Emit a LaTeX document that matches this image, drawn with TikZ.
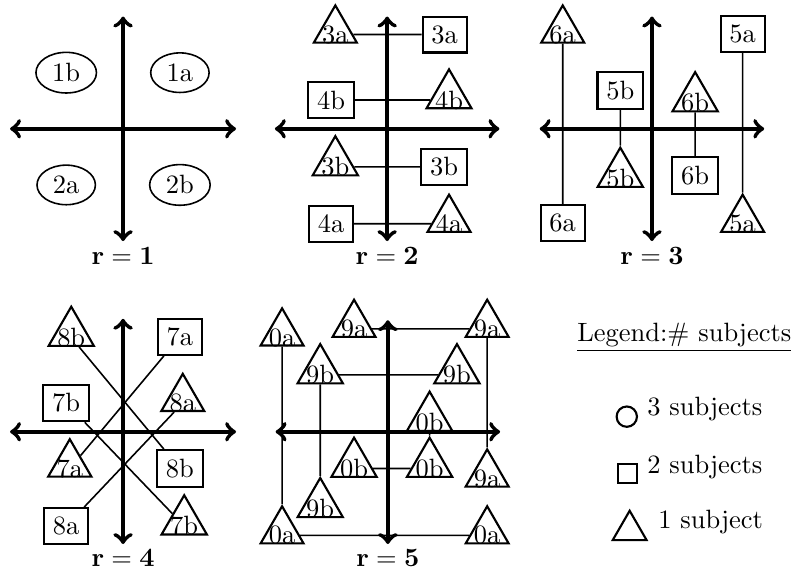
\documentclass[tikz,border=0pt]{standalone}
\usepackage{amsmath}
\usetikzlibrary{shapes.geometric,positioning}

\begin{document}
\begin{tikzpicture}[
  x=0.955cm,
  y=0.955cm,
  every node/.style={font=\normalsize},
  axis/.style={ultra thick, <->},
  link/.style={semithick},
  three/.style={ellipse, draw, semithick, inner xsep=2.8pt, inner ysep=1.9pt},
  two/.style={rectangle, draw, thick},
  one/.style={isosceles triangle, isosceles triangle apex angle=60,
    shape border rotate=90, draw, thick, inner sep=-0.4pt},
  rlab/.style={inner sep=0pt}
]
  \useasboundingbox (0,0) rectangle (11.02,-7.93);

  % ================= r = 1 ==============================================
  \begin{scope}[shift={(1.71,-1.79)}]
    \draw[axis] (-1.57,0) -- (1.57,0);
    \draw[axis] (0,-1.56) -- (0,1.56);

    \node[three] (e1b) at (-0.79,0.78) {1b};
    \node[three] (e1a) at (0.79,0.78) {1a};
    \node[three] (e2a) at (-0.79,-0.78) {2a};
    \node[three] (e2b) at (0.79,-0.78) {2b};

    \node[rlab] (r1) at (0,-1.77) {$\mathbf{r = 1}$};
  \end{scope}

  % ================= r = 2 ==============================================
  \begin{scope}[shift={(5.38,-1.79)}]
    \draw[axis] (-1.56,0) -- (1.56,0);
    \draw[axis] (0,-1.56) -- (0,1.56);

    \node[one] (t3a) at (-0.72,1.31) {3a};
    \node[two] (b3a) at (0.80,1.31) {3a};
    \node[two] (b4b) at (-0.78,0.40) {4b};
    \node[one] (t4b) at (0.86,0.40) {4b};
    \node[one] (t3b) at (-0.72,-0.53) {3b};
    \node[two] (b3b) at (0.79,-0.53) {3b};
    \node[two] (b4a) at (-0.78,-1.32) {4a};
    \node[one] (t4a) at (0.86,-1.32) {4a};

    \draw[link] (t3a) -- (b3a);
    \draw[link] (b4b) -- (t4b);
    \draw[link] (t3b) -- (b3b);
    \draw[link] (b4a) -- (t4a);

    \node[rlab] (r2) at (0,-1.77) {$\mathbf{r = 2}$};
  \end{scope}

  % ================= r = 3 ==============================================
  \begin{scope}[shift={(9.06,-1.79)}]
    \draw[axis] (-1.56,0) -- (1.56,0);
    \draw[axis] (0,-1.56) -- (0,1.56);

    \node[one] (t6a) at (-1.24,1.31) {6a};
    \node[two] (b6a) at (-1.24,-1.31) {6a};
    \node[two] (b5a) at (1.26,1.32) {5a};
    \node[one] (t5a) at (1.26,-1.32) {5a};
    \node[two] (b5b) at (-0.44,0.53) {5b};
    \node[one] (t5b) at (-0.44,-0.69) {5b};
    \node[one] (t6b) at (0.60,0.36) {6b};
    \node[two] (b6b) at (0.60,-0.65) {6b};

    \draw[link] (t6a) -- (b6a);
    \draw[link] (b5a) -- (t5a);
    \draw[link] (b5b) -- (t5b);
    \draw[link] (t6b) -- (b6b);

    \node[rlab] (r3) at (0,-1.77) {$\mathbf{r = 3}$};
  \end{scope}

  % ================= r = 4 ==============================================
  \begin{scope}[shift={(1.71,-6.00)}]
    \draw[axis] (-1.57,0) -- (1.57,0);
    \draw[axis] (0,-1.56) -- (0,1.57);

    \node[one] (t8b) at (-0.72,1.31) {8b};
    \node[two] (b7a) at (0.79,1.32) {7a};
    \node[two] (b7b) at (-0.79,0.40) {7b};
    \node[one] (t8a) at (0.83,0.40) {8a};
    \node[one] (t7a) at (-0.74,-0.51) {7a};
    \node[two] (b8b) at (0.79,-0.51) {8b};
    \node[two] (b8a) at (-0.79,-1.31) {8a};
    \node[one] (t7b) at (0.85,-1.31) {7b};

    \draw[link] (b7a) -- (t7a);
    \draw[link] (b7b) -- (t7b);
    \draw[link] (t8b) -- (b8b);
    \draw[link] (b8a) -- (t8a);

    \node[rlab] (r4) at (0,-1.76) {$\mathbf{r = 4}$};
  \end{scope}

  % ================= r = 5 ==============================================
  \begin{scope}[shift={(5.39,-6.00)}]
    \draw[axis] (-1.56,0) -- (1.56,0);
    \draw[axis] (0,-1.56) -- (0,1.55);

    \node[one] (q0a1) at (-1.47,1.31) {0a};
    \node[one] (q0a2) at (-1.47,-1.44) {0a};
    \node[one] (q0a3) at (1.38,-1.44) {0a};
    \node[one] (q9a1) at (-0.47,1.43) {9a};
    \node[one] (q9a2) at (1.38,1.43) {9a};
    \node[one] (q9a3) at (1.38,-0.65) {9a};
    \node[one] (q9b1) at (-0.94,0.79) {9b};
    \node[one] (q9b2) at (0.96,0.79) {9b};
    \node[one] (q9b3) at (-0.94,-1.07) {9b};
    \node[one] (q0b1) at (0.58,0.13) {0b};
    \node[one] (q0b2) at (-0.47,-0.51) {0b};
    \node[one] (q0b3) at (0.58,-0.51) {0b};

    \draw[link] (q0a1) -- (q0a2);
    \draw[link] (q0a2) -- (q0a3);
    \draw[link] (q9a1) -- (q9a2);
    \draw[link] (q9a2) -- (q9a3);
    \draw[link] (q9b1) -- (q9b2);
    \draw[link] (q9b1) -- (q9b3);
    \draw[link] (q0b1) -- (q0b3);
    \draw[link] (q0b2) -- (q0b3);

    \node[rlab] (r5) at (0,-1.76) {$\mathbf{r = 5}$};
  \end{scope}

  % ================= legend =============================================
  \node (leg) at (9.51,-4.69) {\underline{Legend:\# subjects}};

  \node[circle, draw, thick, minimum size=0.27cm, inner sep=0pt]
    (legc) at (8.71,-5.79) {};
  \node[rectangle, draw, thick, minimum size=0.25cm, inner sep=0pt]
    (legs) at (8.72,-6.58) {};
  \node[regular polygon, regular polygon sides=3, draw, thick,
    minimum size=0.52cm, inner sep=0pt] (legt) at (8.75,-7.37) {};

  \node[anchor=west] (l3) at ([yshift=0.10cm]legc.east) {3 subjects};
  \node[anchor=west] (l2) at ([yshift=0.09cm]legs.east) {2 subjects};
  \node[anchor=west] (l1) at ([xshift=0.09cm,yshift=0.11cm]legt.east)
    {1 subject};
\end{tikzpicture}
\end{document}
